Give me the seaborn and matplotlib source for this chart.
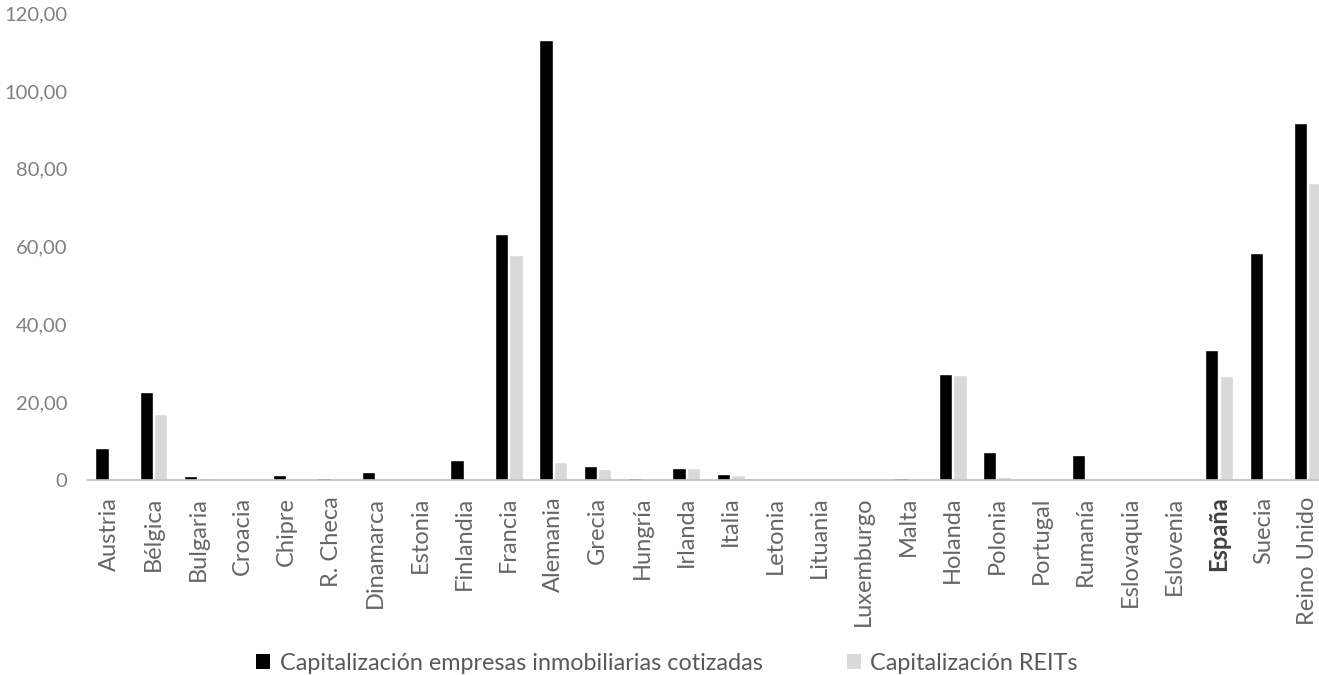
import matplotlib
matplotlib.use("Agg")
import matplotlib.pyplot as plt
from matplotlib.patches import Patch
import seaborn as sns
import pandas as pd

countries = ["Austria", "Bélgica", "Bulgaria", "Croacia", "Chipre", "R. Checa", "Dinamarca",
             "Estonia", "Finlandia", "Francia", "Alemania", "Grecia", "Hungría", "Irlanda",
             "Italia", "Letonia", "Lituania", "Luxemburgo", "Malta", "Holanda", "Polonia",
             "Portugal", "Rumanía", "Eslovaquia", "Eslovenia", "España", "Suecia", "Reino Unido"]
cap_empresas = [8.2, 22.6, 1.0, 0.3, 1.3, 0.6, 2.1, 0.3, 5.1, 63.2, 113.1, 3.6, 0.5, 3.1,
                1.5, 0.3, 0.3, 0.0, 0.5, 27.2, 7.2, 0.0, 6.4, 0.0, 0.0, 33.4, 58.4, 91.8]
cap_reits = [0.0, 17.0, 0.5, 0.0, 0.0, 0.0, 0.0, 0.0, 0.0, 57.8, 4.6, 2.8, 0.0, 3.1,
             1.2, 0.0, 0.0, 0.0, 0.0, 27.0, 0.8, 0.0, 0.0, 0.0, 0.0, 26.7, 0.0, 76.3]
series_names = ["Capitalización empresas inmobiliarias cotizadas", "Capitalización REITs"]
yticks = [0, 20, 40, 60, 80, 100, 120]
ytick_labels = ["0", "20,00", "40,00", "60,00", "80,00", "100,00", "120,00"]
colors = ["#000000", "#d9d9d9"]

df = pd.DataFrame({
    "pais": countries * 2,
    "valor": cap_empresas + cap_reits,
    "serie": [series_names[0]] * len(countries) + [series_names[1]] * len(countries),
})

sns.set_theme(style="white")
plt.rcParams["font.family"] = ["Lato", "DejaVu Sans"]

fig = plt.figure(figsize=(13.19, 6.75), dpi=100)
W, H = 1319, 675
ax_left, ax_right = 87, 1330
ax_bottom, ax_top = 480, 480 - 120 * 3.89
ax = fig.add_axes([ax_left / W, (H - ax_bottom) / H, (ax_right - ax_left) / W, (ax_bottom - ax_top) / H])

sns.barplot(data=df, x="pais", y="valor", hue="serie", palette=colors, width=0.65, gap=0.08,
            saturation=1, ax=ax, legend=False, order=countries, hue_order=series_names)

ax.set_xlim(-0.5, len(countries) - 0.5)
ax.set_ylim(0, 120)
ax.set_yticks(yticks)
ax.set_yticklabels(ytick_labels, fontsize=14.5, color="#808080", fontweight="normal")
ax.set_xlabel("")
ax.set_ylabel("")
ax.tick_params(axis="y", length=0, pad=14)
ax.tick_params(axis="x", length=0, pad=12)
ax.set_xticks(range(len(countries)))
ax.set_xticklabels(countries, rotation=90, fontsize=17, color="#666666", fontweight="normal")
for lbl in ax.get_xticklabels():
    if lbl.get_text() == "España":
        lbl.set_fontweight("bold")
        lbl.set_color("#404040")

for s in ["top", "right", "left"]:
    ax.spines[s].set_visible(False)
ax.spines["bottom"].set_color("#bfbfbf")
ax.spines["bottom"].set_linewidth(1.2)
ax.grid(False)

handles = [Patch(facecolor=colors[0], edgecolor="none"), Patch(facecolor=colors[1], edgecolor="none")]
fig.legend(handles, series_names, loc="center", bbox_to_anchor=(667 / W, (H - 663) / H), ncol=2,
           frameon=False, handlelength=0.6, handleheight=0.6, handletextpad=0.4,
           columnspacing=3.6, labelcolor="#595959", prop={"weight": "normal", "size": 16.8})

fig.savefig("out.png", dpi=100)
